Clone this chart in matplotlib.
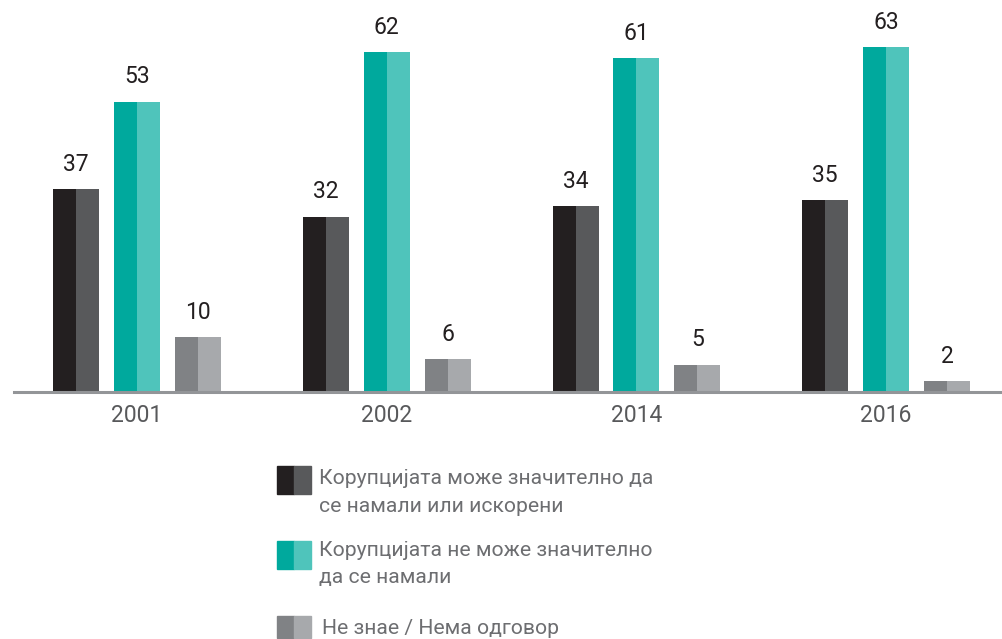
import matplotlib
matplotlib.use("Agg")
import matplotlib.pyplot as plt
import numpy as np
from matplotlib.patches import Rectangle

years = ["2001", "2002", "2014", "2016"]
can_reduce = [37, 32, 34, 35]
cannot_reduce = [53, 62, 61, 63]
dont_know = [10, 6, 5, 2]
legend_labels = ["Корупцијата може значително да\nсе намали или искорени",
                 "Корупцијата не може значително\nда се намали",
                 "Не знае / Нема одговор"]

series = [can_reduce, cannot_reduce, dont_know]
colors = [("#231f20", "#58595b"), ("#00a99d", "#4fc4bb"), ("#808285", "#a7a9ac")]

plt.rcParams['font.family'] = ['Roboto', 'DejaVu Sans']

W, H = 1003, 639
fig = plt.figure(figsize=(W/100, H/100), dpi=100)
scale = 5.48  # px per unit
ymax = 70
ax = fig.add_axes([14/W, (H-392)/H, 1-14/W, ymax*scale/H])
ax.set_xlim(-0.493, 3.468)
ax.set_ylim(0, ymax)

x = np.arange(len(years))
offs = [-0.244, 0.0, 0.244]
bw = 0.184
for s, vals, (c1, c2), off in zip(range(3), series, colors, offs):
    ax.bar(x + off - bw/2, vals, width=bw/2, align='edge', color=c1, zorder=2)
    ax.bar(x + off, vals, width=bw/2, align='edge', color=c2, zorder=2)
    for xi, v in zip(x, vals):
        ax.text(xi + off, v + 2.4, str(v), ha='center', va='bottom',
                fontsize=16.5, color="#231f20")

for sp in ["top", "right", "left"]:
    ax.spines[sp].set_visible(False)
ax.spines["bottom"].set_color("#939598")
ax.spines["bottom"].set_linewidth(2.2)
ax.set_yticks([])
ax.set_xticks(x)
ax.set_xticklabels(years, fontsize=16.5, color="#58595b")
ax.tick_params(axis='x', length=0, pad=9)

# legend (manual)
def fy(py):
    return 1 - py/H
entries = [(466, 494, 479, 506), (541, 569, 551, 578), (616, 638, 628, None)]
for (top, bot, t1, t2), (c1, c2), lab in zip(entries, colors, legend_labels):
    fig.patches.append(Rectangle((277/W, fy(bot)), 17/W, (bot-top)/H, color=c1, transform=fig.transFigure))
    fig.patches.append(Rectangle((294/W, fy(bot)), 17/W, (bot-top)/H, color=c2, transform=fig.transFigure))
    lines = lab.split("\n")
    fig.text(319/W if t2 else 322/W, fy(t1), lines[0], ha='left', va='center', fontsize=15.2, color="#6d6e71")
    if t2:
        fig.text(319/W, fy(t2), lines[1], ha='left', va='center', fontsize=15.2, color="#6d6e71")

fig.savefig("out.png", dpi=100)
